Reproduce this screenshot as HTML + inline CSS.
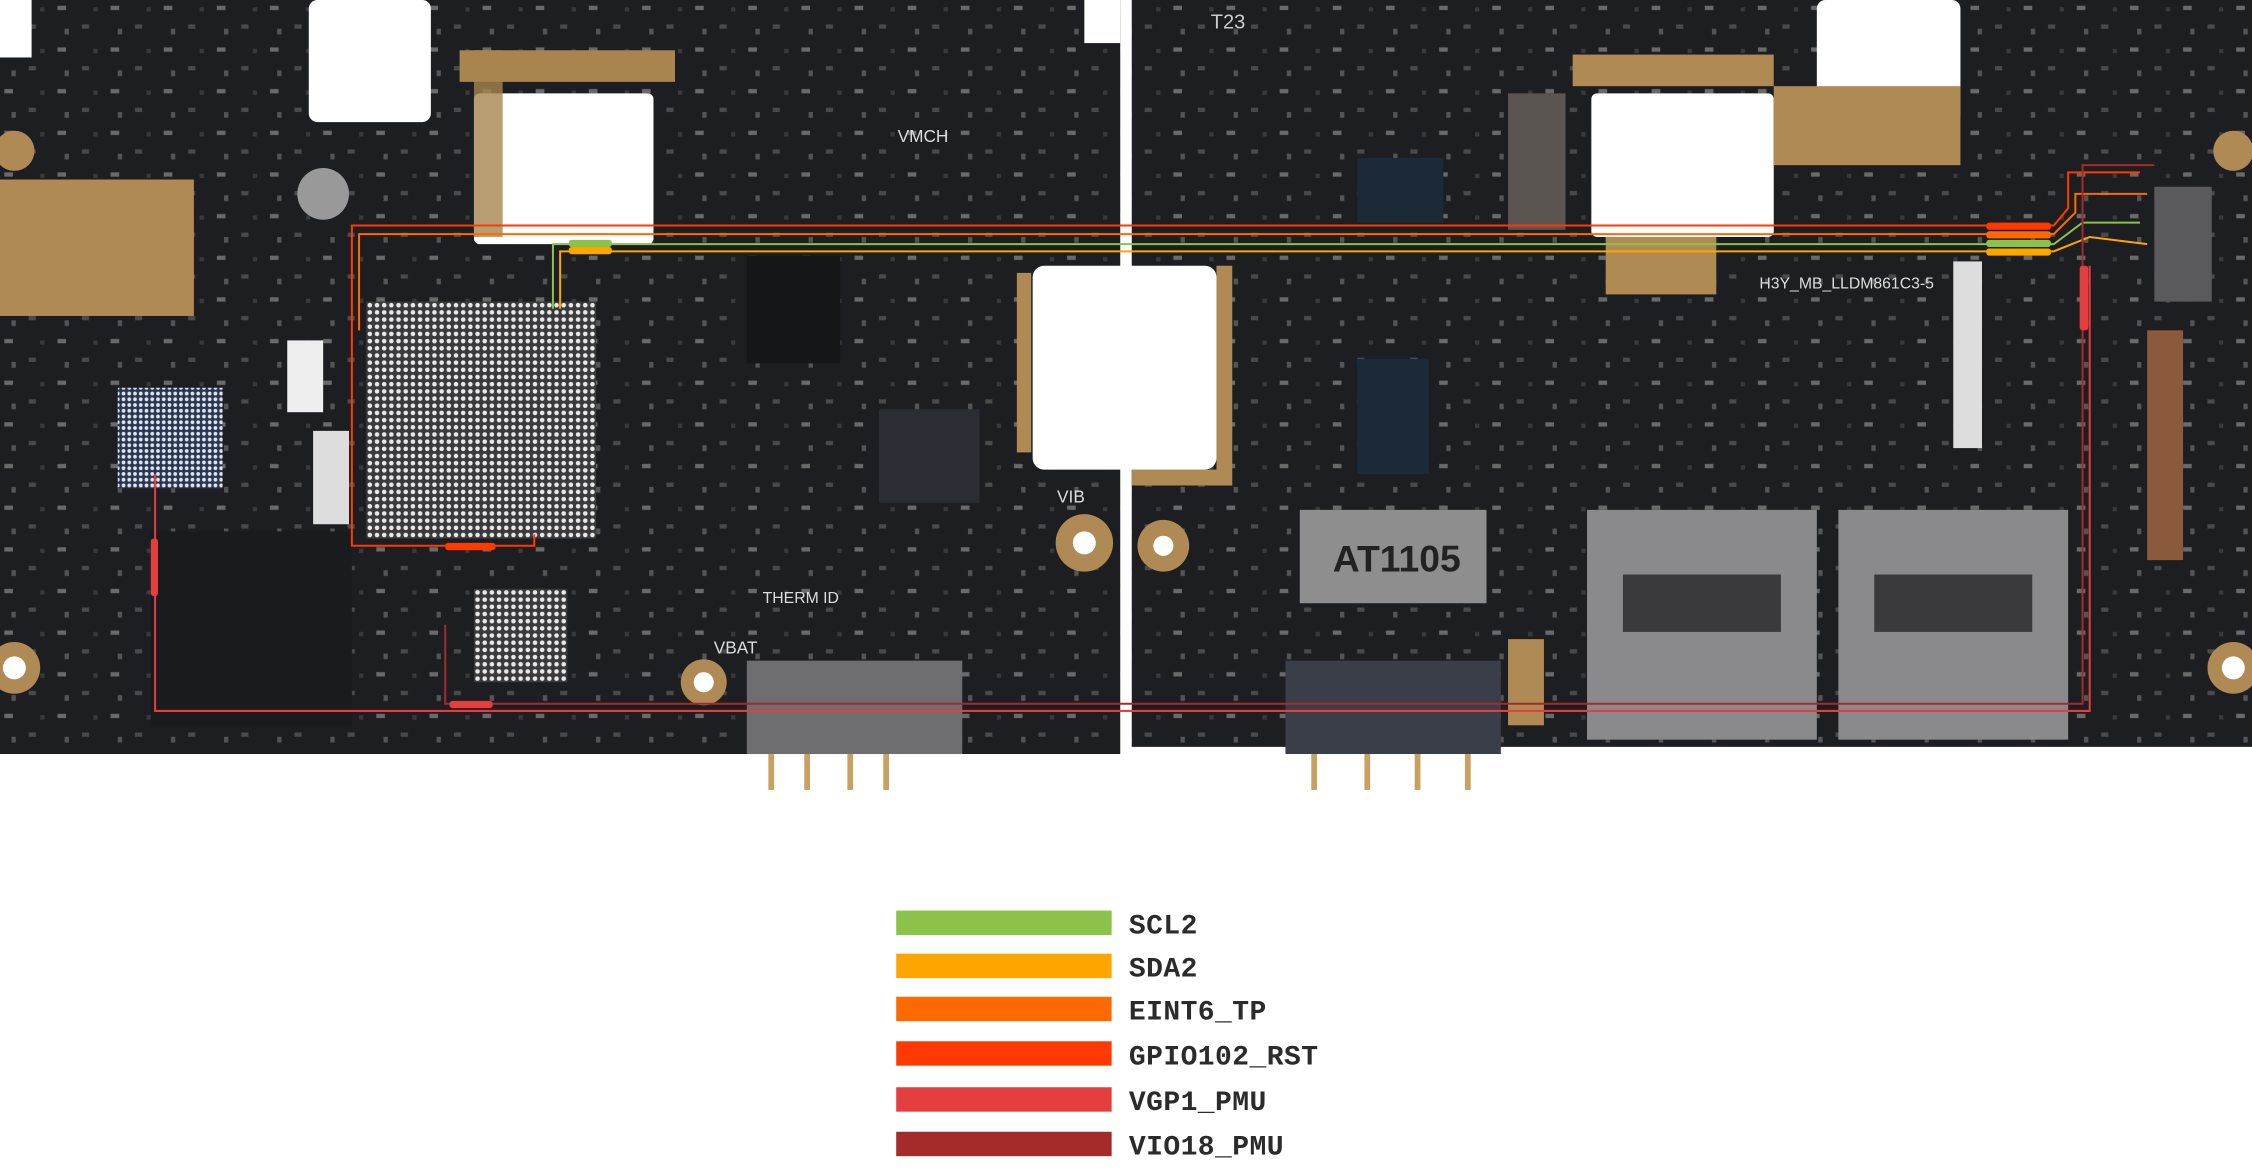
<!DOCTYPE html>
<html><head><meta charset="utf-8"><style>
html,body{margin:0;padding:0;background:#fff;width:2252px;height:1176px;overflow:hidden}
svg{display:block}
</style></head><body>
<svg width="2252" height="1176" viewBox="0 0 1568 818.8" preserveAspectRatio="none" xmlns="http://www.w3.org/2000/svg">
<defs>
<pattern id="bga" width="5" height="5" patternUnits="userSpaceOnUse"><rect width="5" height="5" fill="#3a3a3c"/><circle cx="2.5" cy="2.5" r="1.6" fill="#e8e8e8"/></pattern>
<pattern id="bga2" width="4" height="4" patternUnits="userSpaceOnUse"><rect width="4" height="4" fill="#2a3550"/><circle cx="2" cy="2" r="1.3" fill="#dfe6f0"/></pattern>
<pattern id="cmp" width="37" height="29" patternUnits="userSpaceOnUse"><rect width="37" height="29" fill="#1d1e21"/><rect x="3" y="4" width="6" height="3" fill="#6a6a6a"/><rect x="20" y="17" width="5" height="3" fill="#4a4a4a"/><rect x="28" y="5" width="3" height="3" fill="#3a3a3a"/><rect x="8" y="20" width="3" height="4" fill="#555"/></pattern>
</defs>
<path d="M0 0 H780 V525 H0 Z" fill="url(#cmp)"/>
<rect x="215" y="0" width="85" height="85" rx="6" fill="#fff"/>
<rect x="330" y="65" width="125" height="105" rx="4" fill="#fff"/>
<rect x="0" y="0" width="22" height="40" fill="#fff"/>
<rect x="755" y="0" width="25" height="30" fill="#fff"/>
<rect x="0" y="125" width="135" height="95" fill="#b08a55"/>
<rect x="320" y="35" width="150" height="22" fill="#a8854f"/>
<rect x="330" y="35" width="20" height="130" fill="#a8854f" opacity=".8"/>
<rect x="255" y="210" width="160" height="165" fill="url(#bga)"/>
<rect x="82" y="270" width="73" height="70" fill="url(#bga2)"/>
<rect x="330" y="410" width="65" height="65" fill="url(#bga)"/>
<rect x="105" y="370" width="140" height="135" fill="#1a1b1e"/>
<rect x="520" y="178" width="65" height="75" fill="#151618"/>
<rect x="612" y="285" width="70" height="65" fill="#2a2d33"/>
<rect x="200" y="237" width="25" height="50" fill="#eee"/>
<rect x="218" y="300" width="25" height="65" fill="#ddd"/>
<rect x="520" y="460" width="150" height="65" fill="#6e6e70"/>
<circle cx="755" cy="378" r="20" fill="#b08a55"/><circle cx="755" cy="378" r="8" fill="#fff"/>
<circle cx="490" cy="475" r="16" fill="#b08a55"/><circle cx="490" cy="475" r="7" fill="#fff"/>
<circle cx="10" cy="465" r="18" fill="#b08a55"/><circle cx="10" cy="465" r="8" fill="#fff"/>
<circle cx="10" cy="105" r="14" fill="#b08a55"/>
<circle cx="225" cy="135" r="18" fill="#999"/>
<rect x="535" y="525" width="4" height="25" fill="#c8a060"/><rect x="560" y="525" width="4" height="25" fill="#c8a060"/><rect x="590" y="525" width="4" height="25" fill="#c8a060"/><rect x="615" y="525" width="4" height="25" fill="#c8a060"/>
<path d="M788 0 H1568 V520 H788 Z" fill="url(#cmp)"/>
<rect x="708" y="190" width="10" height="125" fill="#b08a55"/>
<path d="M788 327 H847 V185 H858 V338 H788 Z" fill="#b08a55"/>
<rect x="719" y="185" width="128" height="142" rx="8" fill="#fff"/>
<rect x="1108" y="65" width="127" height="100" rx="4" fill="#fff"/>
<rect x="1265" y="0" width="100" height="85" rx="6" fill="#fff"/>
<rect x="1095" y="38" width="140" height="22" fill="#b08a55"/>
<rect x="1235" y="60" width="130" height="55" fill="#b08a55"/>
<rect x="1118" y="165" width="77" height="40" fill="#b08a55"/>
<rect x="1360" y="182" width="20" height="130" fill="#ddd"/>
<rect x="945" y="110" width="60" height="45" fill="#1c2a38"/>
<rect x="945" y="250" width="50" height="80" fill="#1c2a38"/>
<rect x="1050" y="65" width="40" height="95" fill="#5a5550"/>
<rect x="905" y="355" width="130" height="65" fill="#8e8e8e"/>
<rect x="1105" y="355" width="160" height="160" fill="#8a8a8c"/>
<rect x="1280" y="355" width="160" height="160" fill="#8a8a8c"/>
<rect x="1130" y="400" width="110" height="40" fill="#3a3a3c"/>
<rect x="1305" y="400" width="110" height="40" fill="#3a3a3c"/>
<rect x="895" y="460" width="150" height="65" fill="#3a3e48"/>
<rect x="1495" y="230" width="25" height="160" fill="#8a5a3a"/>
<rect x="1500" y="130" width="40" height="80" fill="#5a5a5e"/>
<circle cx="1555" cy="105" r="14" fill="#b08a55"/>
<circle cx="1555" cy="465" r="18" fill="#b08a55"/><circle cx="1555" cy="465" r="8" fill="#fff"/>
<circle cx="810" cy="380" r="18" fill="#b08a55"/><circle cx="810" cy="380" r="7" fill="#fff"/>
<rect x="1050" y="445" width="25" height="60" fill="#b08a55"/>
<rect x="913" y="525" width="4" height="25" fill="#c8a060"/><rect x="950" y="525" width="4" height="25" fill="#c8a060"/><rect x="985" y="525" width="4" height="25" fill="#c8a060"/><rect x="1020" y="525" width="4" height="25" fill="#c8a060"/>
<text x="928" y="398" font-family="Liberation Sans,sans-serif" font-size="26" font-weight="bold" fill="#222">AT1105</text>
<text x="843" y="20" font-family="Liberation Sans,sans-serif" font-size="14" fill="#ccc">T23</text>
<text x="1225" y="201" font-family="Liberation Sans,sans-serif" font-size="11" fill="#ddd">H3Y_MB_LLDM861C3-5</text>
<text x="625" y="99" font-family="Liberation Sans,sans-serif" font-size="12" fill="#ddd">VMCH</text>
<text x="736" y="350" font-family="Liberation Sans,sans-serif" font-size="12" fill="#ddd">VIB</text>
<text x="497" y="455" font-family="Liberation Sans,sans-serif" font-size="12" fill="#ddd">VBAT</text>
<text x="531" y="420" font-family="Liberation Sans,sans-serif" font-size="11" fill="#ddd">THERM ID</text>
<g fill="none" stroke-width="1.4">
<polyline points="372,372 372,380 245,380 245,157 1430,157 1440,145 1440,120 1490,120" stroke="#ff3a00"/>
<polyline points="250,230 250,163 1430,163 1445,148 1445,135 1495,135" stroke="#ff6a00"/>
<polyline points="385,215 385,170 1430,170 1450,155 1490,155" stroke="#8bc34a"/>
<polyline points="390,215 390,175 1430,175 1455,165 1495,170" stroke="#ffa500"/>
<polyline points="108,330 108,495 1455,495 1455,185" stroke="#e53e3e"/>
<polyline points="310,435 310,490 1450,490 1450,115 1500,115" stroke="#a52a2a"/>
</g>
<rect x="396" y="167" width="30" height="5" rx="2" fill="#8bc34a"/>
<rect x="396" y="172" width="30" height="5" rx="2" fill="#ffa500"/>
<rect x="1383" y="155" width="45" height="5" rx="2" fill="#ff3a00"/>
<rect x="1383" y="161" width="45" height="5" rx="2" fill="#ff6a00"/>
<rect x="1383" y="167" width="45" height="5" rx="2" fill="#8bc34a"/>
<rect x="1383" y="173" width="45" height="5" rx="2" fill="#ffa500"/>
<rect x="310" y="378" width="35" height="5" rx="2" fill="#ff3a00"/>
<rect x="313" y="488" width="30" height="5" rx="2" fill="#e53e3e"/>
<rect x="1448" y="185" width="6" height="45" rx="2" fill="#e53e3e"/>
<rect x="105" y="375" width="5" height="40" rx="2" fill="#e53e3e"/>
<g font-family="Liberation Mono,monospace" font-weight="bold" font-size="19.5" fill="#2b2b2b" letter-spacing="0.3">
<rect x="624" y="634" width="150" height="17" fill="#8bc34a"/><text x="786" y="650">SCL2</text>
<rect x="624" y="664" width="150" height="17" fill="#ffa500"/><text x="786" y="680">SDA2</text>
<rect x="624" y="694" width="150" height="17" fill="#ff6a00"/><text x="786" y="710">EINT6_TP</text>
<rect x="624" y="725" width="150" height="17" fill="#ff3a00"/><text x="786" y="741">GPIO102_RST</text>
<rect x="624" y="757" width="150" height="17" fill="#e53e3e"/><text x="786" y="773">VGP1_PMU</text>
<rect x="624" y="788" width="150" height="17" fill="#a52a2a"/><text x="786" y="804">VIO18_PMU</text>
</g>
</svg>
</body></html>
